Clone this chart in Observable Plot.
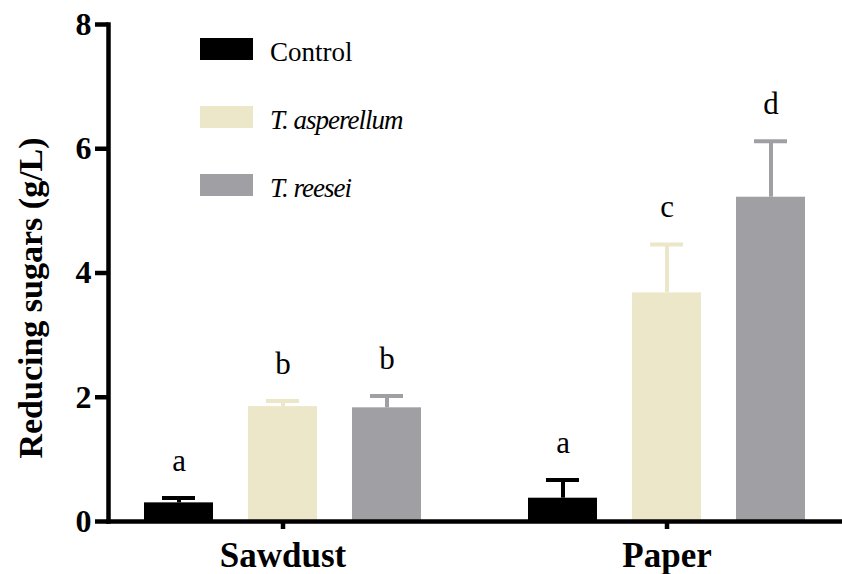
<!DOCTYPE html>
<html>
<head>
<meta charset="utf-8">
<script src="https://cdn.jsdelivr.net/npm/d3@7"></script>
<script src="https://cdn.jsdelivr.net/npm/@observablehq/plot@0.6"></script>
<style>
  html, body { margin: 0; padding: 0; background: #fff; }
  #wrap { position: relative; width: 842px; height: 574px; font-family: "Liberation Serif", serif; }
  #legend { position: absolute; left: 200px; top: 38px; }
  .item { position: absolute; left: 0; display: flex; align-items: center; white-space: nowrap; }
  .sw { width: 53px; height: 22px; margin-right: 17px; }
  .lab { font-size: 27px; line-height: 22px; color: #000; position: relative; top: 3px; }
  .lab.it { font-style: italic; letter-spacing: -1px; }
</style>
</head>
<body>
<div id="wrap"><div id="chart"></div><div id="legend"></div></div>
<script>
// ---- data ----
const substrates = ["Sawdust", "Paper"];
const treatments = ["Control", "T. asperellum", "T. reesei"];
const colors = ["#000000", "#EDE7CA", "#A09FA4"];
const sawdustMeans = [0.30, 1.85, 1.83];
const sawdustSD = [0.08, 0.09, 0.19];
const paperMeans = [0.375, 3.68, 5.22];
const paperSD = [0.295, 0.78, 0.90];
const sawdustLetters = ["a", "b", "b"];
const paperLetters = ["a", "c", "d"];
const yTicks = [0, 2, 4, 6, 8];
const yLabel = "Reducing sugars (g/L)";

const rows = [];
treatments.forEach((t, i) => {
  rows.push({substrate: "Sawdust", treatment: t, mean: sawdustMeans[i], top: sawdustMeans[i] + sawdustSD[i], letter: sawdustLetters[i]});
  rows.push({substrate: "Paper", treatment: t, mean: paperMeans[i], top: paperMeans[i] + paperSD[i], letter: paperLetters[i]});
});

const chart = Plot.plot({
  width: 842,
  height: 574,
  marginTop: 24,
  marginBottom: 53,
  marginLeft: 107,
  marginRight: -6,
  facet: {marginTop: 0, marginRight: 0, marginBottom: 0, marginLeft: 0},
  style: {fontFamily: '"Liberation Serif", serif', color: "#000", background: "#fff", overflow: "hidden"},
  fx: {domain: substrates, paddingInner: 0.0902, paddingOuter: 0, label: null},
  x: {domain: treatments, paddingInner: 0.34, paddingOuter: 0.34, axis: null},
  y: {domain: [0, 8], axis: null},
  color: {domain: treatments, range: colors},
  marks: [
    Plot.barY(rows, {fx: "substrate", x: "treatment", y: "mean", fill: "treatment"}),
    Plot.ruleX(rows, {fx: "substrate", x: "treatment", y1: "mean", y2: "top", stroke: "treatment", strokeWidth: 4}),
    Plot.tickY(rows, {fx: "substrate", x: "treatment", y: "top", stroke: "treatment", strokeWidth: 4, insetLeft: 18, insetRight: 18}),
    Plot.text(rows, {fx: "substrate", x: "treatment", y: "top", text: "letter", dy: -27, lineAnchor: "bottom", fontSize: 31, fill: "#000"}),
    Plot.frame({anchor: "bottom", facet: "super", stroke: "#000", strokeWidth: 4.5}),
    Plot.frame({anchor: "left", facet: "super", stroke: "#000", strokeWidth: 4.5}),
    Plot.axisY({ticks: yTicks, tickSize: 13, tickPadding: 4, strokeWidth: 4.5, fontSize: 32, fontWeight: "bold", label: null, tickFormat: d => String(d)}),
    Plot.axisFx({anchor: "bottom", tickSize: 8, tickPadding: 13, strokeWidth: 4.5, fontSize: 35, fontWeight: "bold", label: null}),
    Plot.text([yLabel], {facet: "super", frameAnchor: "left", textAnchor: "middle", lineAnchor: "middle", rotate: -90, dx: -77, dy: 25, fontSize: 34, fontWeight: "bold", fill: "#000"})
  ]
});
document.getElementById("chart").appendChild(chart);

// ---- legend ----
const legend = d3.select("#legend");
treatments.forEach((t, i) => {
  const item = legend.append("div").attr("class", "item").style("top", `${i * 68}px`);
  item.append("div").attr("class", "sw").style("background", colors[i]);
  item.append("span").attr("class", i === 0 ? "lab" : "lab it").text(t);
});
</script>
</body>
</html>
